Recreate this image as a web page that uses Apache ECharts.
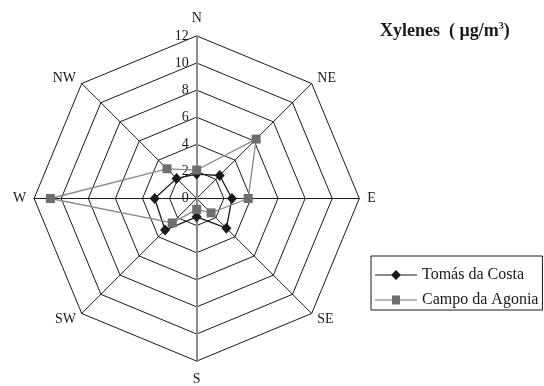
<!DOCTYPE html>
<html>
<head>
<meta charset="utf-8">
<script src="https://cdn.jsdelivr.net/npm/echarts@6/dist/echarts.min.js"></script>
<style>
  html, body { margin: 0; padding: 0; background: #fff; }
  #chart { width: 544px; height: 386px; }
</style>
</head>
<body>
<div id="chart"></div>
<script>
// Wind sectors, listed clockwise from north
const directions = ['N', 'NE', 'E', 'SE', 'S', 'SW', 'W', 'NW'];
// Xylene concentrations (µg/m³) per wind sector
const tomasDaCosta = [1.8, 2.4, 2.6, 3.1, 1.35, 3.3, 3.1, 2.1];
const campoDaAgonia = [2.1, 6.2, 3.8, 1.5, 0.8, 2.55, 10.8, 3.1];
const seriesNames = ['Tomás da Costa', 'Campo da Agonia'];
const scaleMax = 12;
const scaleSteps = 6;

// ECharts lays radar indicators out counter-clockwise, so walk the
// compass in reverse (N, NW, W, ...) to get a clockwise rose.
const order = [0, 7, 6, 5, 4, 3, 2, 1];
const reorder = arr => order.map(i => arr[i]);

const SERIF = '"Liberation Serif", "DejaVu Serif", serif';
const CENTER = [196.7, 198.5];
const RADIUS = 162.6;
const nameStyle = { color: '#1a1a1a', fontSize: 14, fontFamily: SERIF };

const chart = echarts.init(document.getElementById('chart'), null, { renderer: 'canvas' });

chart.setOption({
  backgroundColor: '#ffffff',
  animation: false,
  title: {
    left: 375,
    top: 16,
    text: '{a|Xylenes  ( μg/m}{s|3}{a|)}',
    textStyle: {
      rich: {
        a: { fontFamily: SERIF, fontSize: 18, fontWeight: 'bold', color: '#1a1a1a', lineHeight: 20 },
        s: { fontFamily: SERIF, fontSize: 10, fontWeight: 'bold', color: '#1a1a1a', lineHeight: 20, verticalAlign: 'top', padding: [0, 0, 13, 0] }
      }
    }
  },
  legend: {
    left: 371,
    top: 256,
    orient: 'vertical',
    padding: [11, 4, 2, 4],
    itemWidth: 42,
    itemHeight: 16,
    itemGap: 9,
    borderColor: '#1a1a1a',
    borderWidth: 1,
    textStyle: { fontFamily: SERIF, fontSize: 16, color: '#1a1a1a', lineHeight: 16 },
    data: [
      {
        name: seriesNames[0],
        icon: 'path://M0,7.5H16.5L21,3L25.5,7.5H42V8.5H25.5L21,13L16.5,8.5H0Z',
        itemStyle: { color: '#1a1a1a', borderWidth: 0 }
      },
      {
        name: seriesNames[1],
        icon: 'path://M0,7.5H17V3.5H25V7.5H42V8.5H25V12.5H17V8.5H0Z',
        itemStyle: { color: '#6e6e6e', borderWidth: 0 }
      }
    ]
  },
  radar: [
    {
      center: CENTER,
      radius: RADIUS,
      startAngle: 90,
      shape: 'polygon',
      splitNumber: scaleSteps,
      // N and S are named by the grey spoke below
      indicator: reorder(directions).map(d => ({
        name: (d === 'N' || d === 'S') ? '' : d, min: 0, max: scaleMax
      })),
      axisName: nameStyle,
      nameGap: 8,
      axisLine: { lineStyle: { color: '#1a1a1a', width: 1 } },
      splitLine: { lineStyle: { color: '#1a1a1a', width: 1 } },
      splitArea: { show: false },
      axisTick: { show: false },
      axisLabel: { show: false }
    },
    {
      // north–south spoke drawn in grey and carrying the value scale
      center: CENTER,
      radius: RADIUS,
      startAngle: 90,
      shape: 'polygon',
      splitNumber: scaleSteps,
      indicator: [
        { name: 'N', min: 0, max: scaleMax, axisLabel: { show: true } },
        { name: 'S', min: 0, max: scaleMax }
      ],
      axisName: nameStyle,
      nameGap: 11,
      axisLine: { lineStyle: { color: '#8a8a8a', width: 2 } },
      splitLine: { show: false },
      splitArea: { show: false },
      axisTick: { show: false },
      axisLabel: { show: false, color: '#1a1a1a', fontSize: 14, fontFamily: SERIF, margin: 8 }
    }
  ],
  series: [
    {
      type: 'radar',
      radarIndex: 0,
      name: seriesNames[0],
      symbol: 'diamond',
      symbolSize: [10, 11],
      lineStyle: { color: '#1a1a1a', width: 1.3 },
      itemStyle: { color: '#1a1a1a' },
      z: 3,
      data: [{ name: seriesNames[0], value: reorder(tomasDaCosta) }]
    },
    {
      type: 'radar',
      radarIndex: 0,
      name: seriesNames[1],
      symbol: 'rect',
      symbolSize: 9,
      lineStyle: { color: '#8a8a8a', width: 1.3 },
      itemStyle: { color: '#6e6e6e' },
      z: 4,
      data: [{ name: seriesNames[1], value: reorder(campoDaAgonia) }]
    }
  ]
});
</script>
</body>
</html>
